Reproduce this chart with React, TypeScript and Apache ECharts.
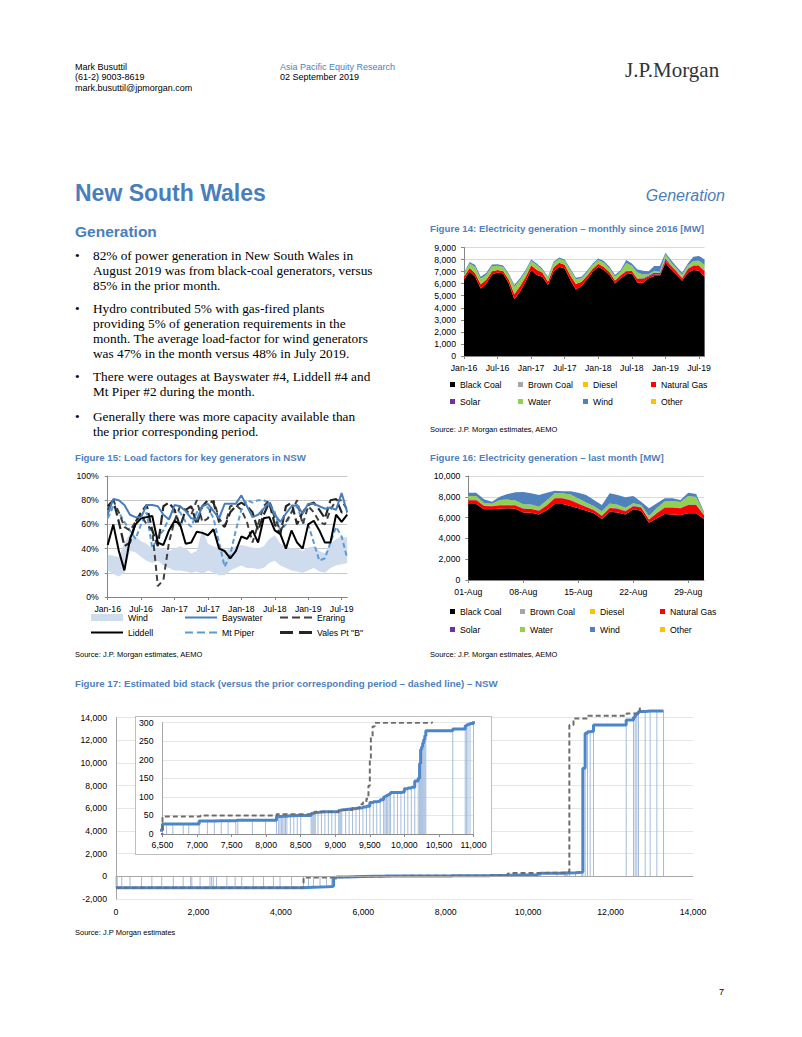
import React, { useEffect, useRef } from 'react';
import * as echarts from 'echarts';

const SANS = '"Liberation Sans", Arial, Helvetica, sans-serif';
const SERIF = '"Liberation Serif", "Times New Roman", Times, serif';
const HEAD_BLUE = '#4a7ebb';
const FIG_BLUE = '#4f81bd';
const FS = 8.7;
const AX = '#868686';
const GRIDC = '#d9d9d9';

// ---------- Figure 14 : monthly generation ----------
const months = [
  'Jan-16','Feb-16','Mar-16','Apr-16','May-16','Jun-16','Jul-16','Aug-16','Sep-16','Oct-16','Nov-16','Dec-16',
  'Jan-17','Feb-17','Mar-17','Apr-17','May-17','Jun-17','Jul-17','Aug-17','Sep-17','Oct-17','Nov-17','Dec-17',
  'Jan-18','Feb-18','Mar-18','Apr-18','May-18','Jun-18','Jul-18','Aug-18','Sep-18','Oct-18','Nov-18','Dec-18',
  'Jan-19','Feb-19','Mar-19','Apr-19','May-19','Jun-19','Jul-19','Aug-19',
];
const m14Black = [6350,7000,6570,5600,6020,6770,6930,6850,6020,4700,5330,6160,7130,6710,6570,5880,6990,7400,7260,6300,5520,5800,6350,6990,7400,7130,6710,6020,6440,6790,6850,6080,6080,6440,6630,6630,7730,7180,6710,6240,6900,7130,7070,6570];
const m14Brown = [0,0,0,0,0,0,0,0,0,0,0,0,0,0,0,0,0,0,0,0,0,0,0,0,0,0,0,0,0,0,0,0,0,0,0,0,0,0,0,0,0,0,0,0];
const m14Diesel = [0,0,0,0,0,0,0,0,0,0,0,0,0,0,0,0,0,0,0,0,0,0,0,0,0,0,0,0,0,0,0,0,0,0,0,0,0,0,0,0,0,0,0,0];
const m14Gas = [250,300,300,350,330,250,200,200,330,450,450,400,400,450,350,300,350,330,300,400,450,350,300,250,250,250,250,250,250,250,200,300,300,150,150,100,200,250,250,200,300,350,400,450];
const m14Solar = [0,0,0,0,0,0,0,0,0,0,0,0,0,0,0,0,0,0,0,0,0,0,0,0,0,0,0,20,30,30,30,40,60,80,150,150,150,100,80,60,50,50,60,80];
const m14Water = [200,380,520,450,400,430,350,330,380,600,520,450,350,380,230,280,370,340,340,440,400,300,300,320,320,350,300,280,280,650,400,500,330,110,150,100,350,250,200,250,250,350,380,450];
const m14Wind = [100,120,150,170,150,150,140,130,120,130,140,120,130,140,110,110,110,110,110,120,120,120,120,120,120,140,140,140,130,240,200,260,300,260,380,480,130,180,160,150,180,350,380,460];
const m14Other = [0,0,0,0,0,0,0,0,0,0,0,0,0,0,0,0,0,0,0,0,0,0,0,0,0,0,0,0,0,0,0,0,0,0,0,0,0,0,0,0,0,0,0,0];

// ---------- Figure 16 : daily generation, August 2019 ----------
const days = [
  '01-Aug','02-Aug','03-Aug','04-Aug','05-Aug','06-Aug','07-Aug','08-Aug','09-Aug','10-Aug',
  '11-Aug','12-Aug','13-Aug','14-Aug','15-Aug','16-Aug','17-Aug','18-Aug','19-Aug','20-Aug',
  '21-Aug','22-Aug','23-Aug','24-Aug','25-Aug','26-Aug','27-Aug','28-Aug','29-Aug','30-Aug','31-Aug',
];
const d16Black = [7300,7300,6800,6800,6860,6890,6860,6500,6470,6310,6730,7300,7300,7120,6890,6670,6410,5870,6570,6500,6310,6800,6670,5510,5930,6350,6310,6250,6410,6410,5830];
const d16Brown = [0,0,0,0,0,0,0,0,0,0,0,0,0,0,0,0,0,0,0,0,0,0,0,0,0,0,0,0,0,0,0];
const d16Diesel = [0,0,0,0,0,0,0,0,0,0,0,0,0,0,0,0,0,0,0,0,0,0,0,0,0,0,0,0,0,0,0];
const d16Gas = [380,380,320,300,300,300,300,350,350,350,450,550,550,550,450,350,300,300,350,350,300,300,300,300,500,600,650,650,800,800,400];
const d16Solar = [50,50,40,40,40,40,40,40,40,40,40,40,40,40,40,40,40,40,40,40,40,40,40,40,40,40,40,40,60,60,40];
const d16Water = [350,350,250,200,500,500,450,400,400,350,450,450,450,500,450,400,350,400,400,350,300,250,200,300,450,550,600,550,800,700,200];
const d16Wind = [320,320,350,190,310,540,780,1170,1070,1120,730,250,190,320,570,710,590,600,970,930,1000,690,320,740,450,310,250,200,330,300,100];
const d16Other = [0,0,0,0,0,0,0,0,0,0,0,0,0,0,0,0,0,0,0,0,0,0,0,0,0,0,0,0,0,0,0];

const genNames = ['Black Coal', 'Brown Coal', 'Diesel', 'Natural Gas', 'Solar', 'Water', 'Wind', 'Other'];
const genColors = ['#000000', '#a6a6a6', '#ffc000', '#ff0000', '#7030a0', '#92d050', '#4f81bd', '#ffc000'];

// ---------- Figure 15 : load factors (%) ----------
const lfWindLow = [22,19,17,20,38,37,33,30,28,30,26,24,22,22,21,20,21,19,22,20,18,18,22,24,26,24,24,23,24,28,30,26,24,22,21,20,22,24,21,20,24,26,27,28];
const lfWindHigh = [35,34,33,45,52,50,46,44,40,41,40,38,40,42,40,36,38,56,44,42,40,38,40,42,43,42,41,40,42,48,51,44,42,40,40,38,41,42,38,36,44,48,50,49];
const lfBayswater = [68,81,80,76,68,66,66,76,76,75,68,64,76,75,71,65,64,75,77,71,65,77,77,77,84,75,66,68,73,78,68,62,69,75,76,69,77,77,75,73,74,72,86,70];
const lfEraring = [72,80,70,58,55,62,68,60,55,9,14,45,63,75,72,68,80,62,65,80,65,58,75,76,72,62,45,60,75,80,65,55,62,70,80,60,75,70,62,60,72,80,80,72];
const lfLiddell = [43,60,38,22,48,60,65,66,67,45,43,55,63,60,44,45,54,53,51,56,40,38,32,38,50,48,55,45,65,66,55,52,40,55,45,40,60,63,55,45,45,68,62,68];
const lfMtPiper = [65,75,70,62,55,48,60,70,40,50,55,65,72,70,62,58,70,75,74,65,45,25,35,55,72,80,78,80,80,78,70,55,60,70,75,62,60,45,30,32,45,58,50,32];
const lfValesPt = [75,80,62,42,45,62,70,76,55,42,75,78,72,58,72,75,60,75,80,78,62,58,70,75,78,75,70,55,68,78,60,52,75,78,60,70,76,78,72,65,80,81,70,70];

// ---------- Figure 17 : bid stack [cumulative MW, $/MWh] ----------
const bidCurrent: [number, number][] = [
  [0,-1000],[30,-1000],[140,-1000],[340,-1000],[620,-1000],[870,-1000],[1110,-1000],[1390,-1000],[1630,-1000],[1810,-1000],
  [1840,-1000],[2040,-1000],[2280,-1000],[2320,-1000],[2360,-1000],[2440,-1000],[2690,-1000],[2890,-1000],[3050,-1000],[3330,-1000],
  [3580,-1000],[3820,-1000],[3980,-1000],[4260,-1000],[4550,-980],[4670,-960],[4790,-950],[4950,-930],[5110,-900],[5235,-850],
  [5280,-150],[5350,-60],[5600,-20],[6000,0],[6300,10],
  [6500,27],[6560,27],[6650,27],[6800,27],[6880,27],[7030,35],[7150,35],[7250,36],[7350,36],[7450,36],[7560,37],[7590,37],[7800,37],[7990,37],
  [8150,47],[8180,47],[8200,47],[8220,48],[8240,48],[8260,48],[8280,48],[8300,49],[8350,49],[8400,50],[8450,50],[8500,50],
  [8650,55],[8665,56],[8680,57],[8695,58],[8710,58],[8750,59],[8800,60],[8850,60],[8900,60],[8950,60],[9000,60],
  [9050,63],[9065,64],[9080,65],[9095,66],[9150,67],[9200,68],[9250,69],[9300,70],[9350,71],[9400,73],[9450,75],
  [9500,85],[9550,87],[9600,88],[9650,92],[9700,100],[9720,102],[9740,104],[9760,106],[9780,108],[9800,112],[9850,112],[9900,112],[9950,113],
  [10000,122],[10050,124],[10100,126],[10150,143],[10200,150],[10220,190],[10235,228],[10250,235],[10265,245],[10280,255],[10295,265],[10310,278],
  [10700,283],[10880,292],[10900,294],[10920,296],[10950,298],[11000,320],[11150,350],[11300,400],
  [11327,9530],[11383,12620],[11440,12760],[11505,12800],[11586,13350],
  [12379,13800],[12557,14050],[12597,14250],[12638,14400],[12678,14550],[12840,14600],[12961,14600],[13123,14600],[13285,14600],
];
const bidPrior: [number, number][] = [
  [0,-1000],[4550,-100],[5250,-60],[5600,-20],[6000,0],[6500,47],[7050,50],[8150,53],[8700,60],[9050,65],[9250,70],
  [9350,80],[9400,85],[9450,95],[9480,130],[9500,200],[9515,260],[9540,290],[9570,300],[10400,330],[10950,400],
  [11000,13350],[11100,13940],[11460,14170],[12390,14380],[12710,14900],
];

const thousands = (v: number) => {
  const s = String(Math.abs(v)).replace(/\B(?=(\d{3})+(?!\d))/g, ',');
  return v < 0 ? '-' + s : s;
};
const labelStyle = { fontFamily: SANS, fontSize: FS, color: '#000' };

function genOption(cats: string[], data: number[][], yMax: number, yInt: number, grid: any,
  legendX: number[], legendTop: number[], interval: number) {
  return {
    animation: false,
    textStyle: { fontFamily: SANS },
    grid,
    legend: genNames.map((n, i) => ({
      data: [n], left: legendX[i % 4], top: legendTop[Math.floor(i / 4)],
      icon: 'rect', itemWidth: 5, itemHeight: 5, padding: 0, selectedMode: false,
      textStyle: labelStyle,
    })),
    xAxis: {
      type: 'category', data: cats, boundaryGap: false,
      axisLine: { lineStyle: { color: AX } },
      axisTick: { interval, length: 3, lineStyle: { color: AX } },
      axisLabel: { ...labelStyle, interval, margin: 7 },
      splitLine: { show: false },
    },
    yAxis: {
      type: 'value', min: 0, max: yMax, interval: yInt,
      axisLine: { show: true, lineStyle: { color: AX } },
      axisTick: { show: true, length: 3, lineStyle: { color: AX } },
      axisLabel: { ...labelStyle, formatter: thousands, margin: 8 },
      splitLine: { lineStyle: { color: GRIDC } },
    },
    series: genNames.map((n, i) => ({
      name: n, type: 'line', stack: 'total', data: data[i], symbol: 'none',
      lineStyle: { width: 0 }, itemStyle: { color: genColors[i] },
      areaStyle: { color: genColors[i], opacity: 1 }, emphasis: { disabled: true },
    })),
  };
}

const fig14Option = genOption(months,
  [m14Black, m14Brown, m14Diesel, m14Gas, m14Solar, m14Water, m14Wind, m14Other],
  9000, 1000, { left: 44, top: 11.5, width: 240.6, height: 108.5 },
  [30, 98, 163, 231], [144, 161], 5);

const fig16Option = genOption(days,
  [d16Black, d16Brown, d16Diesel, d16Gas, d16Solar, d16Water, d16Wind, d16Other],
  10000, 2000, { left: 48.3, top: 10, width: 235.7, height: 104 },
  [30, 100, 170, 240], [141, 159], 6);

const lfLines = [
  { name: 'Mt Piper', data: lfMtPiper, color: '#5b9bd5', width: 2, type: [5, 3] as any },
  { name: 'Eraring', data: lfEraring, color: '#404040', width: 2, type: [6, 4] as any },
  { name: 'Vales Pt "B"', data: lfValesPt, color: '#262626', width: 2.2, type: [10, 4] as any },
  { name: 'Liddell', data: lfLiddell, color: '#000000', width: 2, type: 'solid' as any },
  { name: 'Bayswater', data: lfBayswater, color: '#4a7ebb', width: 2, type: 'solid' as any },
];
const WIND_C = '#cfdcee';
const DASH3 = 'path://M0,0h8v2h-8zM12,0h8v2h-8zM24,0h8v2h-8z';
const DASH2 = 'path://M0,0h13v3h-13zM19,0h13v3h-13z';
const fig15Legend = [
  { name: 'Wind', left: 31, top: 147, icon: 'rect', h: 7 },
  { name: 'Bayswater', left: 125, top: 147, icon: 'rect', h: 2 },
  { name: 'Eraring', left: 220, top: 147, icon: DASH3, h: 2 },
  { name: 'Liddell', left: 31, top: 162, icon: 'rect', h: 2 },
  { name: 'Mt Piper', left: 125, top: 162, icon: DASH3, h: 2 },
  { name: 'Vales Pt "B"', left: 220, top: 162, icon: DASH2, h: 3 },
];
const fig15Option = {
  animation: false,
  textStyle: { fontFamily: SANS },
  grid: { left: 47.7, top: 10, width: 239.5, height: 121 },
  legend: fig15Legend.map((l) => ({
    data: [{ name: l.name, icon: l.icon }],
    left: l.left, top: l.top, itemWidth: 32, itemHeight: l.h,
    padding: 0, selectedMode: false, textStyle: labelStyle,
  })),
  xAxis: {
    type: 'category', data: months, boundaryGap: false,
    axisLine: { lineStyle: { color: AX } },
    axisTick: { interval: 5, length: 3, lineStyle: { color: AX } },
    axisLabel: { ...labelStyle, interval: 5, margin: 7 },
  },
  yAxis: {
    type: 'value', min: 0, max: 100, interval: 20,
    axisLine: { show: true, lineStyle: { color: AX } },
    axisTick: { show: true, length: 3, lineStyle: { color: AX } },
    axisLabel: { ...labelStyle, formatter: '{value}%', margin: 9 },
    splitLine: { lineStyle: { color: '#c8c8c8' } },
  },
  series: [
    { name: 'WindBase', type: 'line', stack: 'wind', data: lfWindLow, symbol: 'none', lineStyle: { width: 0 }, silent: true },
    {
      name: 'Wind', type: 'line', stack: 'wind', data: lfWindHigh.map((h, i) => h - lfWindLow[i]), symbol: 'none',
      lineStyle: { width: 0 }, itemStyle: { color: WIND_C }, areaStyle: { color: WIND_C, opacity: 1 },
    },
    ...lfLines.map((s) => ({
      name: s.name, type: 'line', data: s.data, symbol: 'none',
      itemStyle: { color: s.color }, lineStyle: { color: s.color, width: s.width, type: s.type },
      emphasis: { disabled: true },
    })),
  ],
};

const BID_BLUE = '#4a86c8';
const DROP = '#a3bbdc';
const PRIOR = '#6e6e6e';
const dropSeries = (clip: boolean) => ({
  type: 'custom', data: bidCurrent, clip, z: 1, silent: true,
  renderItem: (_p: any, api: any) => {
    const x = api.value(0), y = api.value(1);
    const a = api.coord([x, 0]);
    const b = api.coord([x, y]);
    return { type: 'line', shape: { x1: a[0], y1: a[1], x2: b[0], y2: b[1] }, style: { stroke: DROP, lineWidth: 1 } };
  },
});
const fig17Option = {
  animation: false,
  textStyle: { fontFamily: SANS },
  grid: { left: 56, top: 17.7, width: 577, height: 181.3 },
  xAxis: {
    type: 'value', min: 0, max: 14000, interval: 2000,
    axisLine: { show: false }, axisTick: { show: false },
    axisLabel: { ...labelStyle, formatter: thousands, margin: 8 },
    splitLine: { show: false },
  },
  yAxis: {
    type: 'value', min: -2000, max: 14000, interval: 2000,
    axisLine: { show: true, lineStyle: { color: '#a6a6a6' } }, axisTick: { show: false },
    axisLabel: { ...labelStyle, formatter: thousands, margin: 9 },
    splitLine: { lineStyle: { color: '#e6e6e6' } },
  },
  series: [
    dropSeries(false),
    {
      type: 'line', data: bidCurrent, step: 'end', symbol: 'none', clip: false, z: 3,
      lineStyle: { color: BID_BLUE, width: 3 }, emphasis: { disabled: true },
    },
    {
      type: 'line', data: bidPrior, step: 'end', symbol: 'none', clip: false, z: 4,
      lineStyle: { color: PRIOR, width: 2, type: [5, 3] }, emphasis: { disabled: true },
      markLine: {
        silent: true, symbol: 'none', label: { show: false },
        lineStyle: { color: '#a6a6a6', width: 1, type: 'solid' }, data: [{ yAxis: 0 }],
      },
    },
  ],
};
const insetOption = {
  animation: false,
  textStyle: { fontFamily: SANS },
  grid: { left: 24.7, top: 5.7, width: 312.8, height: 111.3 },
  xAxis: {
    type: 'value', min: 6500, max: 11000, interval: 500,
    axisLine: { show: true, onZero: false, lineStyle: { color: '#8c8c8c' } },
    axisTick: { show: true, length: 3, lineStyle: { color: '#8c8c8c' } },
    axisLabel: { ...labelStyle, formatter: thousands, margin: 6 },
    splitLine: { show: false },
  },
  yAxis: {
    type: 'value', min: 0, max: 300, interval: 50,
    axisLine: { show: true, lineStyle: { color: '#a6a6a6' } }, axisTick: { show: false },
    axisLabel: { ...labelStyle, margin: 9 },
    splitLine: { lineStyle: { color: '#e6e6e6' } },
  },
  series: [
    dropSeries(true),
    {
      type: 'line', data: bidCurrent, step: 'end', symbol: 'none', z: 3,
      lineStyle: { color: BID_BLUE, width: 3 }, emphasis: { disabled: true },
    },
    {
      type: 'line', data: bidPrior, step: 'end', symbol: 'none', z: 4,
      lineStyle: { color: PRIOR, width: 2, type: [5, 3] }, emphasis: { disabled: true },
    },
  ],
};

function Chart({ option, style }: { option: any; style: React.CSSProperties }) {
  const ref = useRef<HTMLDivElement>(null);
  useEffect(() => {
    const c = echarts.init(ref.current as HTMLDivElement, undefined, { renderer: 'svg' });
    c.setOption(option);
    return () => c.dispose();
  }, []);
  return <div ref={ref} style={style} />;
}

const abs = (left: number, top: number, extra: React.CSSProperties = {}): React.CSSProperties => ({
  position: 'absolute', left, top, whiteSpace: 'nowrap', ...extra,
});

const bullets: string[][] = [
  ['82% of power generation in New South Wales in', 'August 2019 was from black-coal generators, versus', '85% in the prior month.'],
  ['Hydro contributed 5% with gas-fired plants', 'providing 5% of generation requirements in the', 'month. The average load-factor for wind generators', 'was 47% in the month versus 48% in July 2019.'],
  ['There were outages at Bayswater #4, Liddell #4 and', 'Mt Piper #2 during the month.'],
  ['Generally there was more capacity available than', 'the prior corresponding period.'],
];
const bulletTops = [247.5, 300.8, 369.2, 408.8];

export default function App() {
  const small: React.CSSProperties = { fontFamily: SANS, fontSize: 9, lineHeight: '10.3px', color: '#000' };
  const figTitle: React.CSSProperties = { fontFamily: SANS, fontSize: 9.7, fontWeight: 'bold', color: FIG_BLUE, lineHeight: '12px' };
  const source: React.CSSProperties = { fontFamily: SANS, fontSize: 7.5, color: '#000', lineHeight: '10px' };
  return (
    <div style={{ position: 'absolute', left: 0, top: 0, width: 802, height: 1037, background: '#fff', overflow: 'hidden' }}>
      <div style={abs(75, 62, small)}>Mark Busuttil<br />(61-2) 9003-8619<br />mark.busuttil@jpmorgan.com</div>
      <div style={abs(280, 62, small)}><span style={{ color: '#4f81bd' }}>Asia Pacific Equity Research</span><br />02 September 2019</div>
      <div style={abs(625, 58, { fontFamily: SERIF, fontSize: 21, color: '#333', lineHeight: '25px' })}>J.P.Morgan</div>

      <div style={abs(75, 180, { fontFamily: SANS, fontSize: 23, fontWeight: 'bold', color: HEAD_BLUE, lineHeight: '26px' })}>New South Wales</div>
      <div style={{ position: 'absolute', right: 77, top: 187, fontFamily: SANS, fontSize: 16, fontStyle: 'italic', color: HEAD_BLUE, lineHeight: '18px' }}>Generation</div>
      <div style={abs(75, 223, { fontFamily: SANS, fontSize: 15.5, fontWeight: 'bold', color: HEAD_BLUE, lineHeight: '18px' })}>Generation</div>

      {bullets.map((lines, i) => (
        <div key={i}>
          <div style={abs(75, bulletTops[i], { fontFamily: SERIF, fontSize: 13.3, lineHeight: '15px' })}>•</div>
          <div style={abs(93, bulletTops[i], { fontFamily: SERIF, fontSize: 13.3, lineHeight: '15px', color: '#000' })}>
            {lines.map((l, j) => (<React.Fragment key={j}>{l}{j < lines.length - 1 ? <br /> : null}</React.Fragment>))}
          </div>
        </div>
      ))}

      <div style={abs(430, 223.3, figTitle)}>Figure 14: Electricity generation – monthly since 2016 [MW]</div>
      <Chart option={fig14Option} style={{ position: 'absolute', left: 420, top: 236, width: 310, height: 185 }} />
      <div style={abs(430, 425, source)}>Source: J.P. Morgan estimates, AEMO</div>

      <div style={abs(75, 452.3, figTitle)}>Figure 15: Load factors for key generators in NSW</div>
      <Chart option={fig15Option} style={{ position: 'absolute', left: 60, top: 466, width: 310, height: 180 }} />
      <div style={abs(75, 650, source)}>Source: J.P. Morgan estimates, AEMO</div>

      <div style={abs(430, 452.3, figTitle)}>Figure 16: Electricity generation – last month [MW]</div>
      <Chart option={fig16Option} style={{ position: 'absolute', left: 420, top: 466, width: 310, height: 180 }} />
      <div style={abs(430, 650, source)}>Source: J.P. Morgan estimates, AEMO</div>

      <div style={abs(75, 678.3, figTitle)}>Figure 17: Estimated bid stack (versus the prior corresponding period – dashed line) – NSW</div>
      <Chart option={fig17Option} style={{ position: 'absolute', left: 60, top: 700, width: 680, height: 225 }} />
      <div style={{ position: 'absolute', left: 135, top: 716, width: 357, height: 139, boxSizing: 'border-box', border: '1px solid #bfbfbf', background: '#fff' }}>
        <Chart option={insetOption} style={{ position: 'absolute', left: 0, top: 0, width: 355, height: 137 }} />
      </div>
      <div style={abs(75, 928, source)}>Source: J.P Morgan estimates</div>

      <div style={abs(719, 987, { fontFamily: SANS, fontSize: 9, color: '#000' })}>7</div>
    </div>
  );
}
